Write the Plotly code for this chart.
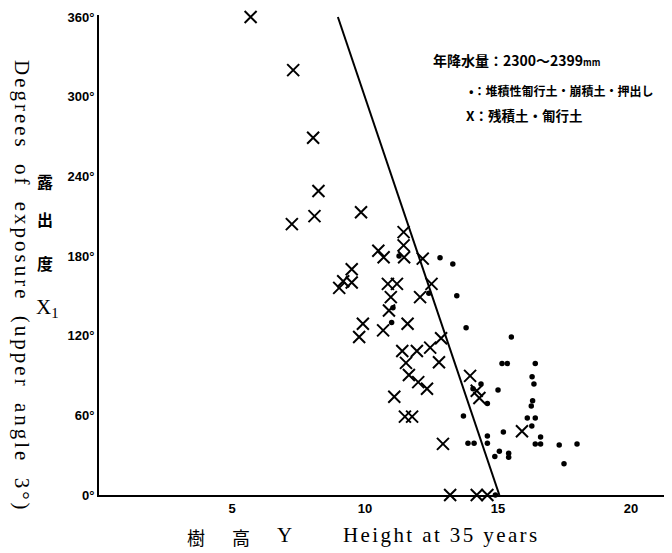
import plotly.graph_objects as go

# ● : 堆積性匍行土・崩積土・押出し
dot_height = [11.28, 12.82, 13.3, 12.4, 13.45, 11.05, 11.0, 13.8, 15.5, 15.15, 15.35, 16.4,
              16.28, 16.35, 14.36, 14.06, 15.0, 14.6, 16.3, 16.25, 13.7, 16.1, 16.4, 16.27,
              15.2, 14.6, 16.6, 13.87, 14.1, 14.6, 16.4, 16.6, 17.3, 17.97, 15.05, 14.88,
              15.4, 15.4, 17.48, 14.9]
dot_exposure = [180, 178.6, 174, 152, 150, 141, 130, 126, 119, 99, 99, 99,
                89, 83.6, 83.6, 80, 79, 69, 71, 67, 59.5, 58, 58, 52,
                47.5, 44.5, 43.7, 39, 39, 39, 38.4, 38.4, 37.7, 38.5, 33, 29,
                31.5, 28.5, 23.5, 0]

# × : 残積土・匍行土
x_height = [5.7, 7.3, 8.05, 8.25, 8.1, 7.25, 9.85, 11.45, 11.45, 10.5, 10.7, 11.47,
            12.17, 9.5, 9.18, 9.5, 9.03, 10.86, 11.2, 12.5, 12.07, 10.97, 10.9, 9.92,
            11.6, 9.78, 10.68, 12.86, 11.4, 11.95, 12.45, 11.54, 12.78, 11.65, 12.0, 12.33,
            13.95, 14.2, 14.3, 11.1, 11.5, 11.77, 15.9, 12.93, 13.2, 14.2, 14.6]
x_exposure = [360, 320, 269, 229, 210, 204, 213, 198, 188, 184, 179, 179,
              178, 170, 161, 160, 156, 159, 159, 159, 149, 149, 139, 129,
              129, 119, 124, 118, 108.5, 108.5, 111, 99.5, 100, 90.4, 85, 80,
              89.7, 78.5, 73, 74, 59, 59, 48, 38.5, 0, 0, 0]

# boundary line
line_height = [8.98, 15.05]
line_exposure = [360, 0]

x_tick_vals = [5, 10, 15, 20]
x_tick_text = ["5", "10", "15", "20"]
y_tick_vals = [0, 60, 120, 180, 240, 300, 360]
y_tick_text = ["0°", "60°", "120°", "180°", "240°", "300°", "360°"]

# page has an 8px body margin
OFF = 8
W, H = 664, 545
L, R, T, B = 91, 0, 7, 58

fig = go.Figure()
fig.add_trace(go.Scatter(x=line_height, y=line_exposure, mode="lines",
                         line=dict(color="black", width=2), cliponaxis=False))
fig.add_trace(go.Scatter(x=x_height, y=x_exposure, mode="markers", cliponaxis=False,
                         marker=dict(symbol="x-thin", size=12,
                                     line=dict(color="black", width=2))))
fig.add_trace(go.Scatter(x=dot_height, y=dot_exposure, mode="markers", cliponaxis=False,
                         marker=dict(symbol="circle", size=5.5, color="black")))

fig.update_layout(
    width=W, height=H,
    margin=dict(l=L, r=R, t=T, b=B, pad=0),
    plot_bgcolor="white", paper_bgcolor="white",
    showlegend=False,
    xaxis=dict(range=[0, 21.54], tickvals=x_tick_vals, ticktext=x_tick_text,
               showline=True, linecolor="black", linewidth=2, showgrid=False,
               zeroline=False, ticks="", ticklabelstandoff=0,
               tickfont=dict(family="Liberation Sans", size=13, color="black", weight="bold")),
    yaxis=dict(range=[0, 361.5], tickvals=y_tick_vals, ticktext=y_tick_text,
               showline=True, linecolor="black", linewidth=2, showgrid=False,
               zeroline=False, ticks="", ticklabelstandoff=0,
               tickfont=dict(family="Liberation Sans", size=13, color="black", weight="bold")),
)

serif = "Liberation Serif"
cjk = "Noto Sans CJK JP"
ann = []
ann.append(dict(x=22, y=286,
                text='<span style="letter-spacing:3px;word-spacing:6px">Degrees of exposure (upper angle 3°)</span>',
                textangle=90, font=dict(family=serif, size=21, color="black")))
for ch, yy in [("露", 181), ("出", 219), ("度", 263)]:
    ann.append(dict(x=45, y=yy, text=ch, font=dict(family=cjk, size=16, color="black", weight="bold")))
ann.append(dict(x=47, y=308, text="X<sub>1</sub>", font=dict(family=serif, size=21, color="black")))
for ch, xx in [("樹", 196), ("高", 241)]:
    ann.append(dict(x=xx, y=537, text=ch, font=dict(family=cjk, size=18, color="black")))
ann.append(dict(x=284, y=535, text="Y", font=dict(family=serif, size=21, color="black")))
ann.append(dict(x=441, y=535, text='<span style="letter-spacing:2.4px">Height at 35 years</span>',
                font=dict(family=serif, size=21, color="black")))
ann.append(dict(x=431, y=60, xanchor="left",
                text="年降水量：2300～2399<span style='font-size:9px'>mm</span>",
                font=dict(family=cjk, size=14, color="black", weight="bold")))
ann.append(dict(x=467, y=90, xanchor="left", text="•：堆積性匍行土・崩積土・押出し",
                font=dict(family=cjk, size=12, color="black", weight="bold")))
ann.append(dict(x=464, y=115, xanchor="left", text="X：残積土・匍行土",
                font=dict(family=cjk, size=13.5, color="black", weight="bold")))
for a in ann:
    a.update(xref="paper", yref="paper", showarrow=False)
    a.setdefault("xanchor", "center")
    a["yanchor"] = "middle"
    # convert page-pixel coordinates to paper coordinates
    a["x"] = (a["x"] - OFF - L) / (W - L - R)
    a["y"] = (OFF + H - B - a["y"]) / (H - T - B)
fig.update_layout(annotations=ann)

fig.write_html("out.html")
